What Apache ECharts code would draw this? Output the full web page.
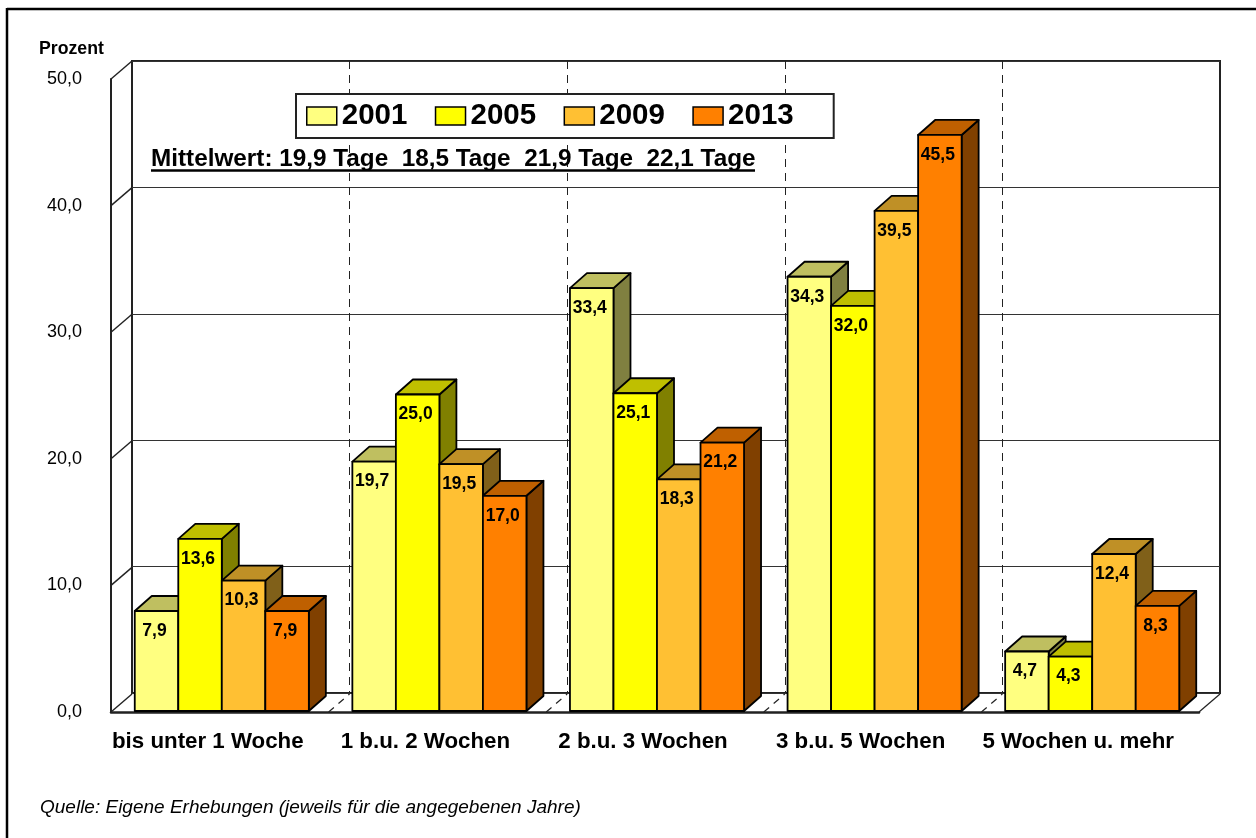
<!DOCTYPE html>
<html>
<head>
<meta charset="utf-8">
<title>Prozent</title>
<style>
html,body{margin:0;padding:0;background:#fff;}
#main{width:1256px;height:838px;}
</style>
<script src="https://cdn.jsdelivr.net/npm/echarts@6/dist/echarts.min.js"></script>
</head>
<body>
<div id="main"></div>
<script>
var categories = ['bis unter 1 Woche','1 b.u. 2 Wochen','2 b.u. 3 Wochen','3 b.u. 5 Wochen','5 Wochen u. mehr'];
var years = ['2001','2005','2009','2013'];
var v2001 = [7.9,19.7,33.4,34.3,4.7];
var v2005 = [13.6,25.0,25.1,32.0,4.3];
var v2009 = [10.3,19.5,18.3,39.5,12.4];
var v2013 = [7.9,17.0,21.2,45.5,8.3];
var yTicks = [0,10,20,30,40,50];
var note = 'Mittelwert: 19,9 Tage  18,5 Tage  21,9 Tage  22,1 Tage';
var source = 'Quelle: Eigene Erhebungen (jeweils für die angegebenen Jahre)';

var frontCol = ['#FFFF80','#FFFF00','#FFC033','#FF8000'];
var topCol = ['#BFBF60','#BFBF00','#BF9026','#BF6000'];
var sideCol = ['#808040','#808000','#806019','#804000'];

var FONT = '"Liberation Sans", Arial, sans-serif';
var DX = 21, DY = -18;   // wall depth
var BX = 17, BY = -15;   // bar depth

function comma(v){ return v.toFixed(1).replace('.',','); }

function poly(points, fill){
	return {type:'polygon', shape:{points:points}, style:{fill:fill, stroke:'#000', lineWidth:1.8, lineJoin:'round'}};
}

function barItem(s){
	return function(params, api){
		var cat = api.value(0), val = api.value(1);
		var top = api.coord([cat,val]);
		var base = api.coord([cat,0]);
		var w = api.size([1,0])[0]*0.2;
		var x0 = top[0]+2+(s-2)*w, x1 = x0+w;
		var y0 = top[1]-1, y1 = base[1]-1;
		return {type:'group', children:[
			poly([[x1,y0],[x1+BX,y0+BY],[x1+BX,y1+BY],[x1,y1]], sideCol[s]),
			poly([[x0,y0],[x0+BX,y0+BY],[x1+BX,y0+BY],[x1,y0]], topCol[s]),
			poly([[x0,y0],[x1,y0],[x1,y1],[x0,y1]], frontCol[s]),
			{type:'text', style:{text:comma(val), x:(x0+x1)/2-2, y:y0+20, align:'center', verticalAlign:'middle',
				font:'bold 17.5px '+FONT, fill:'#000'}, z2:5}
		]};
	};
}

function barSeries(s, vals){
	return {
		name:years[s], type:'custom', xAxisIndex:0, yAxisIndex:0, z:5+s, clip:false,
		itemStyle:{color:frontCol[s]},
		encode:{x:0,y:1},
		data:vals.map(function(v,i){ return [i,v]; }),
		renderItem:barItem(s)
	};
}

// diagonals on left wall, one per tick
function wallTick(params, api){
	var y = api.coord([0,api.value(0)])[1], x = params.coordSys.x;
	return {type:'line', shape:{x1:x,y1:y,x2:x+DX,y2:y+DY}, style:{stroke:'#222',lineWidth:1.4}};
}
// dashed floor lines between the groups, solid at the right end
function floorLine(params, api){
	var i = api.value(0), cs = params.coordSys;
	var x = cs.x+i*cs.width/categories.length, y = cs.y+cs.height;
	return {type:'line', shape:{x1:x,y1:y,x2:x+DX,y2:y+DY},
		style:{stroke:'#222',lineWidth:1.2,lineDash:i==categories.length?null:[7,6]}};
}

var myChart = echarts.init(document.getElementById('main'));
myChart.setOption({
	animation:false,
	backgroundColor:'#fff',
	textStyle:{fontFamily:FONT},
	grid:[
		{left:111,top:79,width:1088,height:633},
		{left:132,top:61,width:1088,height:632,show:true,borderColor:'#222',borderWidth:2,backgroundColor:'#fff',z:0}
	],
	xAxis:[
		{type:'category',gridIndex:0,data:categories,z:3,
			axisLine:{lineStyle:{color:'#222',width:2.5}},axisTick:{show:false},splitLine:{show:false},
			axisLabel:{interval:0,margin:19,fontSize:22.3,fontWeight:'bold',color:'#000',padding:[0,24,0,0]}},
		{type:'category',gridIndex:1,data:categories,z:1,
			axisLine:{show:false},axisTick:{show:false},axisLabel:{show:false},
			splitLine:{show:true,interval:0,showMinLine:false,showMaxLine:false,lineStyle:{color:'#222',type:[8,6],width:1}}}
	],
	yAxis:[
		{type:'value',gridIndex:0,min:0,max:50,interval:10,z:3,
			axisLine:{show:true,lineStyle:{color:'#222',width:2}},axisTick:{show:false},splitLine:{show:false},
			axisLabel:{margin:29,fontSize:18,color:'#000',padding:[4,0,0,0],formatter:function(v){return comma(v);}}},
		{type:'value',gridIndex:1,min:0,max:50,interval:10,z:1,
			axisLine:{show:false},axisTick:{show:false},axisLabel:{show:false},
			splitLine:{show:true,lineStyle:{color:'#333',width:1}}}
	],
	legend:{
		left:296,top:94,orient:'horizontal',data:years.map(function(y,i){
			return {name:y,icon:'rect',itemStyle:{color:frontCol[i],borderColor:'#000',borderWidth:1.5}};
		}),
		itemWidth:30,itemHeight:18,itemGap:27.4,padding:[7,40,7,10],
		backgroundColor:'#fff',borderColor:'#222',borderWidth:2,z:8,
		selectedMode:false,
		textStyle:{fontSize:29.5,fontWeight:'bold',color:'#000',fontFamily:FONT}
	},
	series:[
		{type:'custom',xAxisIndex:0,yAxisIndex:0,z:2,clip:false,data:yTicks.map(function(v){return [v];}),encode:{},renderItem:wallTick},
		{type:'custom',xAxisIndex:0,yAxisIndex:0,z:2,clip:false,data:[1,2,3,4,5].map(function(i){return [i];}),encode:{},renderItem:floorLine},
		barSeries(0,v2001),barSeries(1,v2005),barSeries(2,v2009),barSeries(3,v2013)
	],
	graphic:[
		{type:'line',z:20,shape:{x1:7,y1:9,x2:1256,y2:9},style:{stroke:'#000',lineWidth:2.5}},
		{type:'line',z:20,shape:{x1:7,y1:8,x2:7,y2:838},style:{stroke:'#000',lineWidth:2.5}},
		{type:'text',z:20,left:39,top:40,style:{text:'Prozent',font:'bold 17.7px '+FONT,fill:'#000'}},
		{type:'text',z:20,left:151,top:147,style:{text:note,font:'bold 24.3px '+FONT,fill:'#000'}},
		{type:'line',z:20,shape:{x1:151,y1:170.5,x2:755,y2:170.5},style:{stroke:'#000',lineWidth:2.5}},
		{type:'text',z:20,left:40,top:798,style:{text:source,font:'italic 19px '+FONT,fill:'#000'}}
	]
});
</script>
</body>
</html>
